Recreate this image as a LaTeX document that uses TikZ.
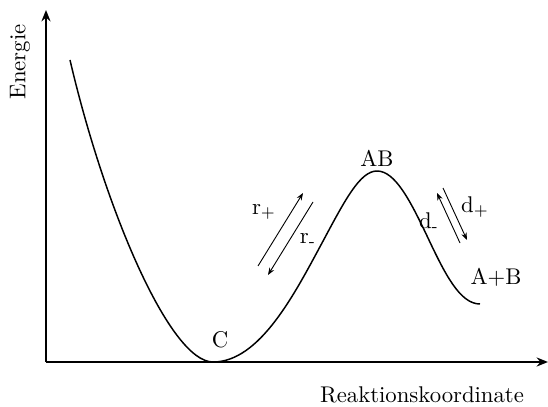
\documentclass[tikz,border=0pt]{standalone}
\usetikzlibrary{arrows.meta}
\tikzset{
  axis/.style={-{Stealth[length=5pt, width=4pt]}, line width=0.8pt},
  curve/.style={line width=0.65pt},
  rate/.style={-{Stealth[length=3.2pt, width=2.4pt]}, line width=0.4pt},
  lbl/.style={inner sep=1pt},
}
\begin{document}
\begin{tikzpicture}[x=0.44pt, y=-0.44pt]
  \useasboundingbox (0,0) rectangle (548,407);
  % axes
  \coordinate (o) at (46,362);
  \coordinate (ytop) at (46,10);
  \coordinate (xend) at (548,362);
  \draw[axis] (o) -- (ytop);
  \draw[axis] (o) -- (xend);
  \node[lbl, rotate=90] (energie) at (20,62) {Energie};
  \node[lbl] (rk) at (422,395) {Reaktionskoordinate};
  % energy profile
  \coordinate (start) at (70,60);
  \coordinate (cmin) at (213,362);
  \coordinate (ts) at (377,171);
  \coordinate (prod) at (480,304);
  \draw[curve] (start) .. controls (105,210) and (170,362) .. (cmin)
    .. controls (260,362) and (295,293) .. (322,243)
    .. controls (345,200) and (360,171) .. (ts)
    .. controls (395,171) and (410,200) .. (428,238)
    .. controls (445,274) and (460,304) .. (prod);
  \node[lbl] (c) at (220,340) {C};
  \node[lbl] (ab) at (377,158) {AB};
  \node[lbl] (apb) at (496,277) {A+B};
  % rates
  \coordinate (r1) at (258,266); \coordinate (r2) at (303,193);
  \coordinate (r3) at (313,202); \coordinate (r4) at (268,275);
  \draw[rate] (r1) -- (r2);
  \draw[rate] (r3) -- (r4);
  \node[lbl] (rp) at (264,212) {r$_+$};
  \node[lbl] (rm) at (308,240) {r\textsubscript{-}};
  \coordinate (d1) at (460,243); \coordinate (d2) at (437,193);
  \coordinate (d3) at (443,188); \coordinate (d4) at (467,240);
  \draw[rate] (d1) -- (d2);
  \draw[rate] (d3) -- (d4);
  \node[lbl] (dm) at (429,222) {d\textsubscript{-}};
  \node[lbl] (dp) at (475,207) {d$_+$};
\end{tikzpicture}
\end{document}
